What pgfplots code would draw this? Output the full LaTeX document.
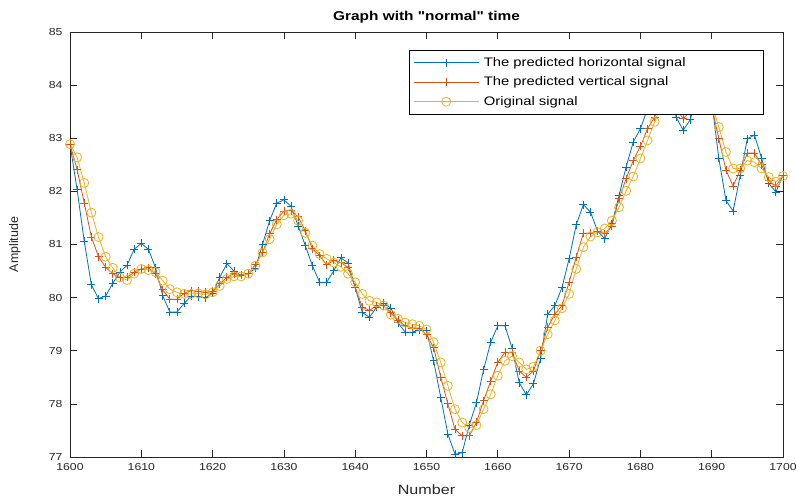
\documentclass[border=0pt]{standalone}
\usepackage{pgfplots}
\pgfplotsset{compat=1.18}
\usepackage{pgfplotstable}
\usepackage{fontspec}
\setmainfont[FakeStretch=1.2]{Liberation Sans}
\newfontfamily\plainsans{Liberation Sans}
\newfontfamily\titlefont[FakeStretch=1.2, Ligatures=TeXOff]{Liberation Sans}
\definecolor{mblue}{rgb}{0,0.447,0.741}
\definecolor{mred}{rgb}{0.85,0.325,0.098}
\definecolor{myel}{rgb}{0.929,0.694,0.125}
\definecolor{axgray}{rgb}{0.15,0.15,0.15}

\pgfplotstableread{
x blue red orig
1600 82.89 82.89 82.89
1601 82.03 82.41 82.64
1602 81.06 81.78 82.16
1603 80.24 81.14 81.60
1604 79.98 80.77 81.14
1605 80.03 80.57 80.77
1606 80.27 80.45 80.56
1607 80.48 80.38 80.38
1608 80.61 80.38 80.33
1609 80.91 80.48 80.45
1610 81.02 80.54 80.54
1611 80.91 80.56 80.52
1612 80.56 80.45 80.48
1613 80.04 80.15 80.32
1614 79.73 79.97 80.16
1615 79.73 79.97 80.10
1616 79.89 80.08 80.07
1617 80.03 80.13 80.07
1618 80.02 80.12 80.08
1619 80.00 80.10 80.06
1620 80.08 80.12 80.10
1621 80.38 80.26 80.22
1622 80.64 80.38 80.35
1623 80.50 80.45 80.40
1624 80.42 80.42 80.40
1625 80.45 80.45 80.45
1626 80.55 80.62 80.60
1627 81.00 80.85 80.85
1628 81.45 81.20 81.10
1629 81.78 81.47 81.38
1630 81.84 81.63 81.55
1631 81.72 81.64 81.58
1632 81.35 81.52 81.45
1633 80.98 81.26 81.22
1634 80.60 80.92 80.98
1635 80.29 80.79 80.82
1636 80.29 80.62 80.73
1637 80.51 80.70 80.66
1638 80.75 80.66 80.58
1639 80.65 80.57 80.45
1640 80.19 80.19 80.29
1641 79.72 79.82 80.07
1642 79.63 79.76 79.94
1643 79.82 79.85 79.91
1644 79.90 79.85 79.85
1645 79.80 79.72 79.68
1646 79.53 79.57 79.60
1647 79.35 79.47 79.53
1648 79.35 79.43 79.50
1649 79.39 79.43 79.47
1650 79.38 79.30 79.40
1651 78.81 79.06 79.16
1652 78.12 78.50 78.78
1653 77.43 78.00 78.34
1654 77.05 77.52 77.90
1655 77.08 77.40 77.65
1656 77.60 77.40 77.55
1657 78.02 77.65 77.60
1658 78.64 78.06 77.90
1659 79.16 78.43 78.18
1660 79.47 78.78 78.53
1661 79.47 78.97 78.81
1662 79.05 78.97 78.90
1663 78.40 78.62 78.78
1664 78.17 78.50 78.65
1665 78.38 78.62 78.70
1666 78.85 79.00 79.00
1667 79.69 79.44 79.31
1668 79.85 79.69 79.57
1669 80.19 79.85 79.80
1670 80.73 80.29 80.07
1671 81.37 80.76 80.54
1672 81.75 81.21 80.95
1673 81.61 81.21 81.15
1674 81.25 81.25 81.23
1675 81.11 81.20 81.30
1676 81.39 81.35 81.45
1677 81.92 81.86 81.70
1678 82.46 82.24 82.01
1679 82.93 82.58 82.28
1680 83.18 82.85 82.62
1681 83.55 83.18 82.96
1682 83.95 83.40 83.31
1683 84.15 83.75 83.65
1684 84.00 83.80 83.85
1685 83.40 83.55 83.80
1686 83.15 83.37 83.60
1687 83.35 83.50 83.55
1688 83.85 83.80 83.70
1689 84.00 83.85 83.85
1690 83.70 83.60 83.65
1691 82.62 82.99 83.21
1692 81.83 82.40 82.74
1693 81.63 82.10 82.43
1694 82.30 82.40 82.43
1695 82.99 82.72 82.58
1696 83.06 82.72 82.55
1697 82.62 82.50 82.43
1698 82.15 82.20 82.27
1699 81.99 82.10 82.18
1700 82.30 82.30 82.29
}\sig

\begin{document}
\begin{tikzpicture}
\begin{axis}[
  scale only axis, width=713bp, height=425bp,
  xmin=1600, xmax=1700, ymin=77, ymax=85,
  xtick={1600,1610,...,1700}, ytick={77,78,...,85},
  tick align=inside, tick pos=both,
  major tick length=7bp,
  axis line style={axgray, line width=0.7bp},
  every tick/.style={axgray, line width=0.7bp},
  /pgf/number format/assume math mode=true,
  /pgf/number format/1000 sep={},
  tick label style={font=\fontsize{10.2}{12}\selectfont, text=axgray},
  xticklabel style={yshift=-3bp},
  yticklabel style={xshift=-4bp},
  title={\titlefont\bfseries Graph with "normal" time},
  title style={font=\fontsize{12.9}{15}\selectfont, at={(axis description cs:0.5,1)}, anchor=center, yshift=9bp},
  xlabel={Number}, ylabel={\plainsans Amplitude},
  xlabel style={font=\fontsize{13.5}{15}\selectfont, text=axgray, at={(axis description cs:0.5,0)}, anchor=center, yshift=-33bp},
  ylabel style={font=\fontsize{12.5}{15}\selectfont, text=axgray, at={(axis description cs:0,0.5)}, anchor=center, yshift=55bp},
  legend style={at={(0.972,0.958)}, anchor=north east, draw=black,
    line width=0.5bp, font=\fontsize{12.4}{14}\selectfont,
    row sep=5bp, inner xsep=4bp, inner ysep=5.5bp},
  legend cell align=left,
  legend image code/.code={\draw[mark repeat=2,mark phase=2,#1] plot coordinates {(0bp,0bp) (32.5bp,0bp) (65bp,0bp)};},
]
\coordinate (sw) at (rel axis cs:0,0);
\addplot[mblue, line width=0.8bp, mark=+, mark size=4bp, mark options={solid}] table[x=x,y=blue] {\sig};
\addlegendentry{\hspace*{2.7bp}\makebox[273bp][l]{The predicted horizontal signal}}
\addplot[mred, line width=0.8bp, mark=+, mark size=4bp, mark options={solid}] table[x=x,y=red] {\sig};
\addlegendentry{\hspace*{2.7bp}\makebox[273bp][l]{The predicted vertical signal}}
\addplot[myel, line width=0.8bp, mark=o, mark size=4.5bp, mark options={solid}] table[x=x,y=orig] {\sig};
\addlegendentry{\hspace*{2.7bp}\makebox[273bp][l]{Original signal}}
\end{axis}
\pgfresetboundingbox
\path[use as bounding box] (sw) ++(-70bp,-43bp) rectangle ++(796bp,500bp);
\end{tikzpicture}
\end{document}
